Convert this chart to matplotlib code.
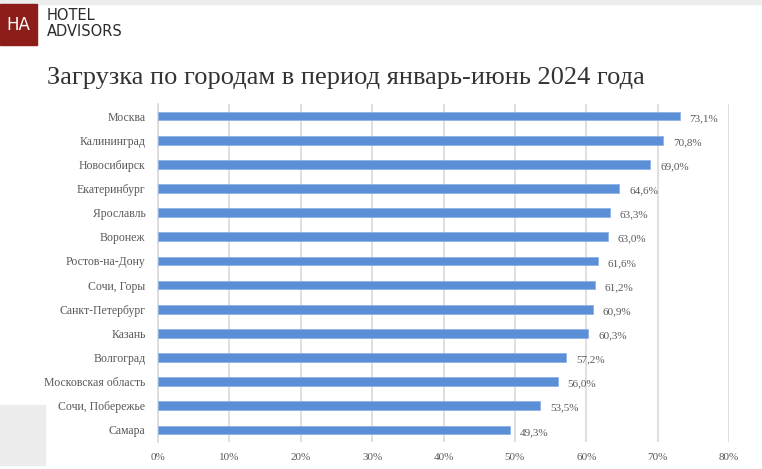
"""Загрузка по городам, январь-июнь 2024"""

import matplotlib
matplotlib.use("Agg")
import matplotlib.pyplot as plt
from matplotlib.patches import Rectangle

cities = [
    "Москва", "Калининград", "Новосибирск", "Екатеринбург", "Ярославль",
    "Воронеж", "Ростов-на-Дону", "Сочи, Горы", "Санкт-Петербург", "Казань",
    "Волгоград", "Московская область", "Сочи, Побережье", "Самара",
]
occupancy = [73.1, 70.8, 69.0, 64.6, 63.3, 63.0, 61.6, 61.2, 60.9, 60.3,
             57.2, 56.0, 53.5, 49.3]
x_ticks = [0, 10, 20, 30, 40, 50, 60, 70, 80]

title = "Загрузка по городам в период январь-июнь 2024 года"
serif = ["Liberation Serif", "DejaVu Serif"]
grey = "#595959"
bar_color = "#5A8ED6"

fig = plt.figure(figsize=(7.62, 4.69), dpi=100)
fig.patch.set_facecolor("white")

# декор фона: серая полоса сверху и плашка слева внизу
fig.patches.append(Rectangle((0, 1 - 4 / 469), 1, 4 / 469, transform=fig.transFigure,
                             color="#ededed", zorder=0))
fig.patches.append(Rectangle((0, 1 - 465 / 469), 45 / 762, 60 / 469,
                             transform=fig.transFigure, color="#ececec", zorder=0))

# логотип
fig.patches.append(Rectangle((0, 1 - 45 / 469), 37 / 762, 41 / 469,
                             transform=fig.transFigure, color="#8c1d18", zorder=1))
fig.text(18.5 / 762, 1 - 25 / 469, "HA", color="white", fontsize=12,
         ha="center", va="center", family="DejaVu Sans")
fig.text(47 / 762, 1 - 16 / 469, "HOTEL", color="#2b2b2b", fontsize=10.5,
         ha="left", va="center", family="DejaVu Sans", weight="medium")
fig.text(47 / 762, 1 - 31 / 469, "ADVISORS", color="#2b2b2b", fontsize=10.5,
         ha="left", va="center", family="DejaVu Sans", weight="medium")

fig.text(47 / 762, 1 - 78 / 469, title, color="#333333", fontsize=19,
         ha="left", va="center", family=serif)

ax = fig.add_axes([158 / 762, 1 - 442 / 469, (729 - 158) / 762, (442 - 104) / 469])
pos = list(range(len(cities)))
ax.barh(pos, occupancy, height=0.36, color=bar_color, edgecolor="#8fb3e6",
        linewidth=0.6, zorder=3)
for p, v in zip(pos, occupancy):
    ax.text(v + 1.4, p + 0.1, f"{v:.1f}%".replace(".", ","), color=grey,
            fontsize=8, va="center", ha="left", family=serif)

ax.set_ylim(len(cities) - 0.5, -0.5)
ax.set_xlim(0, 80)
ax.set_yticks(pos)
ax.set_yticklabels(cities, family=serif, fontsize=8.5, color=grey)
ax.set_xticks(x_ticks)
ax.set_xticklabels([f"{t}%" for t in x_ticks], family=serif, fontsize=8, color=grey)
ax.tick_params(length=0)
ax.tick_params(axis="y", pad=9)
ax.tick_params(axis="x", pad=8)
ax.grid(axis="x", color="#d9d9d9", linewidth=1.2, zorder=0)
for s in ["top", "right", "bottom"]:
    ax.spines[s].set_visible(False)
ax.spines["left"].set_color("#d9d9d9")
ax.spines["left"].set_linewidth(1.2)
ax.set_facecolor("none")

fig.savefig("out.png", dpi=100)
